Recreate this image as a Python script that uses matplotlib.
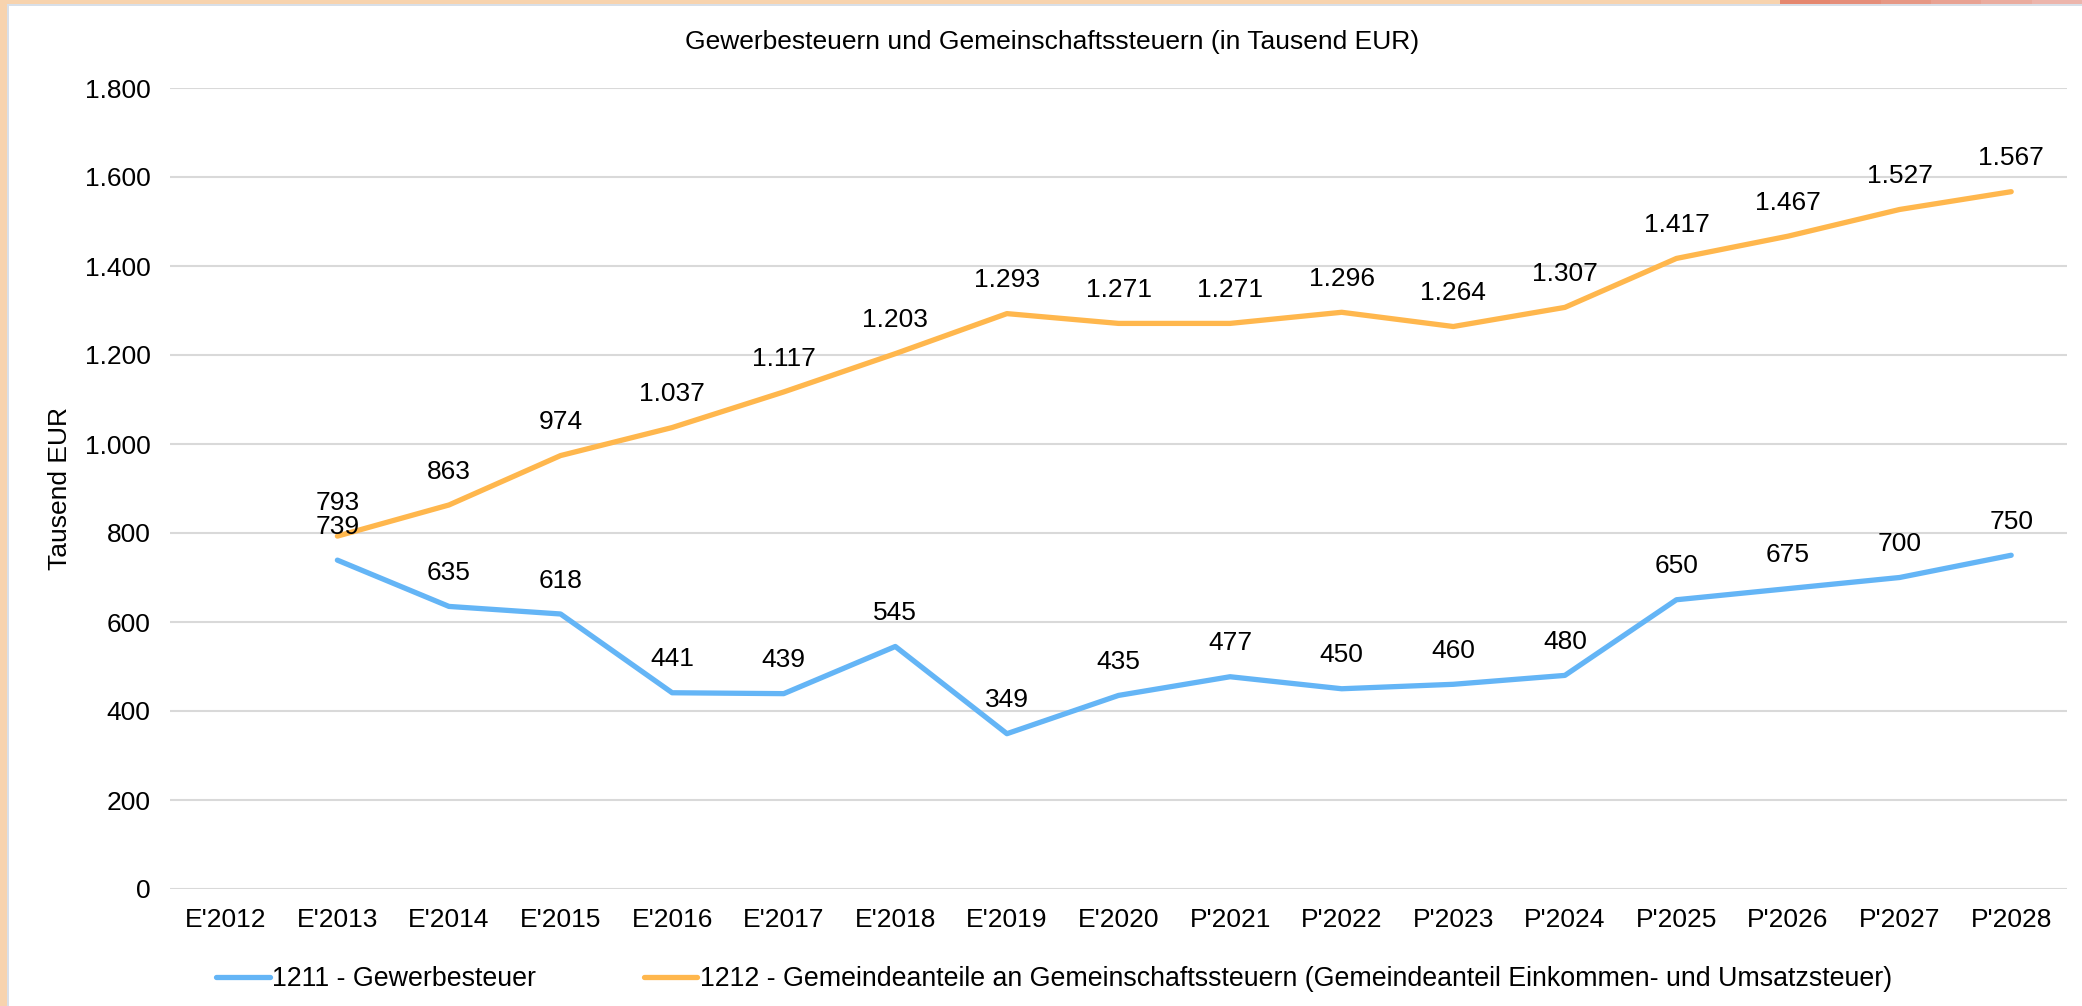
import matplotlib.pyplot as plt
from matplotlib.patches import Rectangle

plt.rcParams["font.family"] = ["Liberation Sans", "DejaVu Sans"]

years = ["E'2012", "E'2013", "E'2014", "E'2015", "E'2016", "E'2017", "E'2018",
         "E'2019", "E'2020", "P'2021", "P'2022", "P'2023", "P'2024", "P'2025",
         "P'2026", "P'2027", "P'2028"]
gewerbe = [None, 739, 635, 618, 441, 439, 545, 349, 435, 477, 450, 460, 480,
           650, 675, 700, 750]
gemeinschaft = [None, 793, 863, 974, 1037, 1117, 1203, 1293, 1271, 1271, 1296,
                1264, 1307, 1417, 1467, 1527, 1567]
yticks = [0, 200, 400, 600, 800, 1000, 1200, 1400, 1600, 1800]

blue = "#64B5F6"
orange = "#FFB74D"
W, H = 2082, 1006


def fmt(v):
    return f"{v:,.0f}".replace(",", ".")


def frame_rect(x0, y0, w, h, color):
    # pixel box measured from top-left corner
    fig.patches.append(Rectangle((x0 / W, 1 - (y0 + h) / H), w / W, h / H,
                                 transform=fig.transFigure, color=color,
                                 lw=0, zorder=0))


fig = plt.figure(figsize=(W / 100, H / 100), dpi=100)
fig.patch.set_facecolor("white")

# window frame: peach left and top, thin grey inner line, reddish strip top right
frame_rect(0, 0, 7, H, "#F7D3AE")
frame_rect(0, 0, 1780, 4, "#F7D3AE")
frame_rect(7, 4, 2, H, "#D8DFE8")
frame_rect(7, 4, W, 1.5, "#D8DFE8")
reds = ["#E5876F", "#E58E7A", "#E69885", "#E8A293", "#EAAC9F", "#ECB5AC"]
step = (W - 1780) / len(reds)
for i, c in enumerate(reds):
    frame_rect(1780 + i * step, 0, step + 1, 4, c)

ax = fig.add_axes([170 / W, 1 - 889 / H, 1897 / W, 801 / H])

x = list(range(len(years)))
xs_b = [i for i, v in zip(x, gewerbe) if v is not None]
vs_b = [v for v in gewerbe if v is not None]
xs_o = [i for i, v in zip(x, gemeinschaft) if v is not None]
vs_o = [v for v in gemeinschaft if v is not None]

ax.plot(xs_b, vs_b, color=blue, lw=3.8, solid_capstyle="round",
        label="1211 - Gewerbesteuer")
ax.plot(xs_o, vs_o, color=orange, lw=3.8, solid_capstyle="round",
        label="1212 - Gemeindeanteile an Gemeinschaftssteuern (Gemeindeanteil Einkommen- und Umsatzsteuer)")

for xi, v in zip(xs_b, vs_b):
    ax.annotate(fmt(v), (xi, v), xytext=(0, 24), textcoords="offset points",
                ha="center", va="center", fontsize=19)
for xi, v in zip(xs_o, vs_o):
    ax.annotate(fmt(v), (xi, v), xytext=(0, 24), textcoords="offset points",
                ha="center", va="center", fontsize=19)

ax.set_xlim(-0.5, len(years) - 0.5)
ax.set_ylim(0, 1800)
ax.set_xticks(x)
ax.set_xticklabels(years, fontsize=19)
ax.set_yticks(yticks)
ax.set_yticklabels([fmt(v) for v in yticks], fontsize=19)
ax.tick_params(length=0, pad=14)
ax.grid(axis="y", color="#D9D9D9", lw=1.5)
ax.set_axisbelow(True)
for s in ax.spines.values():
    s.set_visible(False)
ax.set_facecolor("none")

ax.set_ylabel("Tausend EUR", fontsize=19, labelpad=9)
fig.text(1052 / W, 1 - 42 / H,
         "Gewerbesteuern und Gemeinschaftssteuern (in Tausend EUR)",
         ha="center", va="center", fontsize=19)

ax.legend(loc="center", bbox_to_anchor=(1054 / W, 1 - 979 / H),
          bbox_transform=fig.transFigure, ncol=2, frameon=False, fontsize=19.3,
          handlelength=2.0, handletextpad=0.1, columnspacing=4.0)

fig.savefig("out.png", dpi=100)
